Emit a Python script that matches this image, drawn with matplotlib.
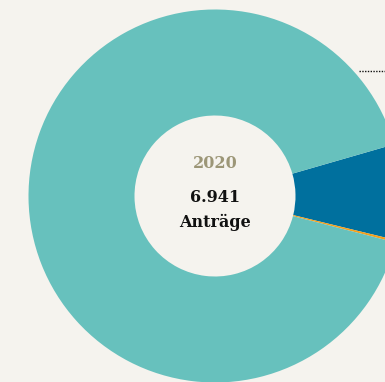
import matplotlib
matplotlib.use("Agg")
import matplotlib.pyplot as plt

categories = ["Kategorie B", "Kategorie C", "Kategorie A"]
values = [575, 14, 6352]
colors = ["#00709e", "#f5a01a", "#67c1bd"]
year_label = "2020"
total_label = "6.941"
unit_label = "Anträge"

bg = "#f5f3ee"
W, H = 385, 382
fig = plt.figure(figsize=(W / 100, H / 100), dpi=100, facecolor=bg)
ax = fig.add_axes([0, 0, 1, 1])
ax.set_facecolor(bg)

cx, cy = 215, H - 196
R, r = 186.5, 80.5
ax.pie(values, colors=colors, startangle=16.1, counterclock=False,
       center=(cx, cy), radius=R,
       wedgeprops=dict(width=R - r, linewidth=0))
ax.set_xlim(0, W)
ax.set_ylim(0, H)
ax.set_aspect("equal")
ax.axis("off")

# leader line (top right)
ax.plot([359, W], [H - 71, H - 71], color="#111111", lw=1.0,
        linestyle=(0, (1, 1)))

ax.text(cx, H - 163, year_label, ha="center", va="center",
        fontsize=11.5, fontweight="bold", color="#9c9677", family="DejaVu Serif")
ax.text(cx, H - 197, total_label, ha="center", va="center",
        fontsize=11.5, fontweight="bold", color="#111111", family="DejaVu Serif")
ax.text(cx, H - 222, unit_label, ha="center", va="center",
        fontsize=11.5, fontweight="bold", color="#111111", family="DejaVu Serif")

fig.savefig("out.png", dpi=100, facecolor=bg)
